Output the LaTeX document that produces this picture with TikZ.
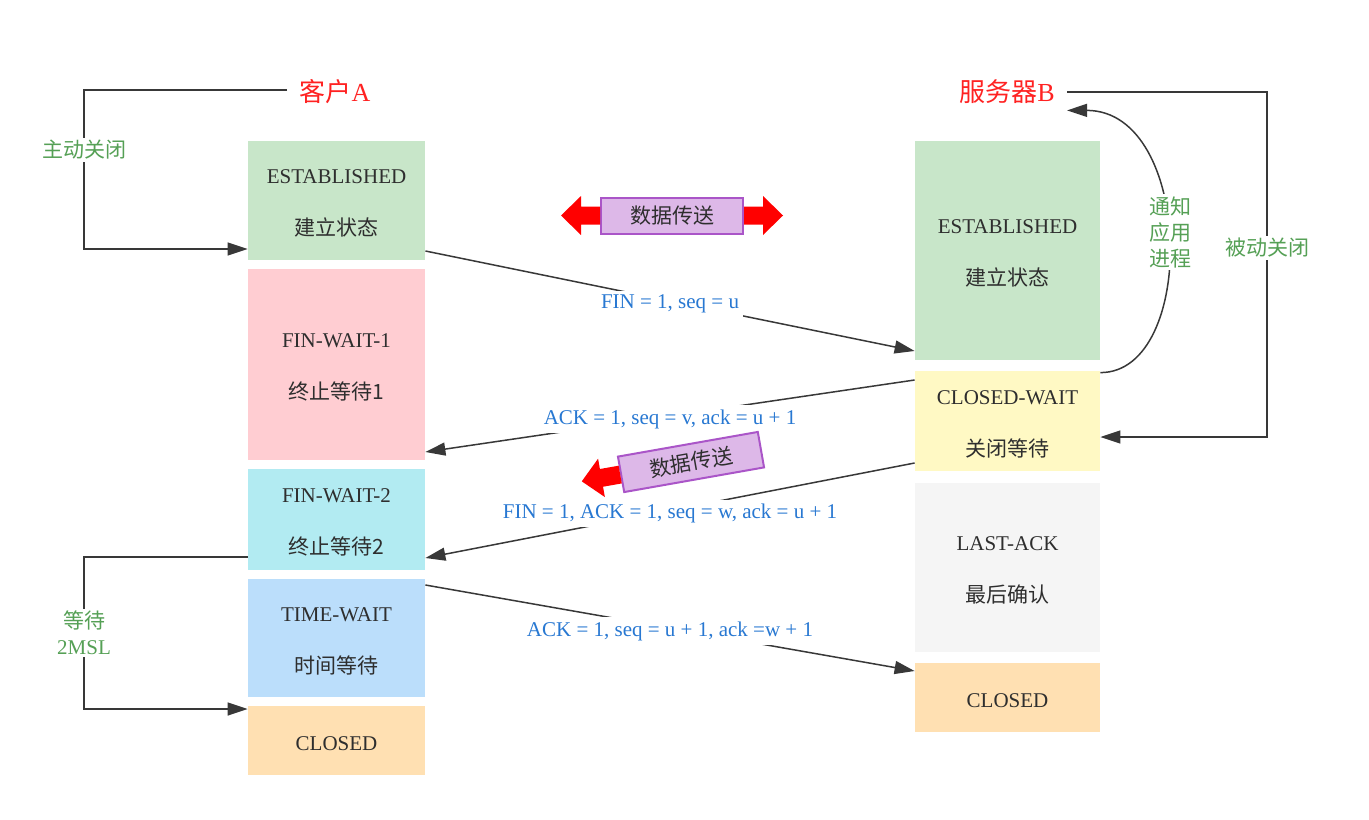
\documentclass[tikz,border=0pt]{standalone}
\usepackage{fontspec}
\setmainfont{Liberation Serif}
\newfontfamily\cjk{Noto Sans CJK SC}
\usetikzlibrary{arrows.meta}
\definecolor{estgreen}{HTML}{C8E6C9}
\definecolor{finpink}{HTML}{FFCDD2}
\definecolor{fincyan}{HTML}{B2EBF2}
\definecolor{timeblue}{HTML}{BBDEFB}
\definecolor{closedorange}{HTML}{FFE0B2}
\definecolor{waityellow}{HTML}{FFF9C4}
\definecolor{lastgrey}{HTML}{F5F5F5}
\definecolor{boxtext}{HTML}{2E2E2E}
\definecolor{titlered}{HTML}{FF2222}
\definecolor{notegreen}{HTML}{55A055}
\definecolor{msgblue}{HTML}{2878D2}
\definecolor{linegrey}{HTML}{383838}
\definecolor{datfill}{HTML}{DDB8E8}
\definecolor{datedge}{HTML}{AA55C8}
\begin{document}
\begin{tikzpicture}
% 1 unit = 1px of the 1369x819 sheet, y runs down
[x=0.5pt, y=-0.5pt,
 state/.style={inner sep=0pt, align=center, text=boxtext, font=\fontsize{10.5}{26}\selectfont},
 title/.style={text=titlered, inner sep=6pt, font=\fontsize{13}{15}\selectfont},
 note/.style={text=notegreen, fill=white, inner sep=1pt, align=center, font=\cjk\fontsize{10.5}{13}\selectfont},
 msg/.style={text=msgblue, fill=white, inner sep=2pt, yshift=-1.5pt, font=\fontsize{10.5}{12}\selectfont},
 link/.style={draw=linegrey, line width=0.75pt, -{Triangle[length=10pt,width=6.5pt]}},
 datbox/.style={fill=datfill, draw=datedge, line width=1pt, minimum width=71pt, minimum height=18pt, inner sep=0pt, text=boxtext, font=\cjk\fontsize{10.5}{12}\selectfont},
 datarrow/.style={fill=red}]
\useasboundingbox (0,0) rectangle (1369,819);
% left column x 248..425, right column x 915..1100
% the 10pt strut pulls the lines 1.5pt down
\foreach \nm/\xc/\bw/\yt/\yb/\fc/\en/\zh in {
 aest/336.5/177/141/260/estgreen/ESTABLISHED/建立状态,
 afw1/336.5/177/269/460/finpink/FIN-WAIT-1/终止等待1,
 afw2/336.5/177/469/570/fincyan/FIN-WAIT-2/终止等待2,
 atw/336.5/177/579/697/timeblue/TIME-WAIT/时间等待,
 best/1007.5/185/141/360/estgreen/ESTABLISHED/建立状态,
 bcw/1007.5/185/371/471/waityellow/CLOSED-WAIT/关闭等待,
 blast/1007.5/185/483/652/lastgrey/LAST-ACK/最后确认}{
	\node[state, fill=\fc, minimum width=\bw*0.5pt, minimum height={(\yb-\yt)*0.5pt}] (\nm) at (\xc,{(\yt+\yb)/2}) {\rule{0pt}{10pt}\en\\{\cjk\zh}};
	}
\node[state, fill=closedorange, minimum width=88.5pt, minimum height=34.5pt] (acl) at (336.5,740.5) {\rule{0pt}{10pt}CLOSED};
\node[state, fill=closedorange, minimum width=92.5pt, minimum height=34.5pt] (bcl) at (1007.5,697.5) {\rule{0pt}{10pt}CLOSED};
\node[title] (ca) at (335,92) {{\cjk 客户}A};
\node[title] (sb) at (1007,92) {{\cjk 服务器}B};
% loops at the sides
\coordinate (k1) at (84,150);
\coordinate (k2) at (1267,248);
\coordinate (k3) at (84,633);
\coordinate (k4) at (1170,232);
\draw[link] ([yshift=1pt]ca.west) -| (k1) |- ([yshift=-24.25pt]aest.west);
\draw[link] (sb.east) -| (k2) |- ([yshift=-8pt]bcw.east);
\draw[link] ([yshift=-18.75pt]afw2.west) -| (k3) |- ([yshift=15.75pt]acl.west);
\draw[link] ([yshift=-1pt]bcw.north east) .. controls +(97,0) and +(127,0) .. ([yshift=3pt]sb.south east);
\node[note] (n1) at (k1) {主动关闭};
\node[note] (n2) at (k2) {被动关闭};
\node[note] (n3) at (k3) {等待\\{\rmfamily 2MSL}};
\node[note] (n4) at (k4) {通知\\应用\\进程};
% segments between the two sides
\draw[link] ([yshift=-25.25pt]aest.east) -- node[msg] (m1) {FIN = 1, seq = u} ([yshift=-50.25pt]best.west);
\draw[link] ([yshift=20.5pt]bcw.west) -- node[msg] (m2) {ACK = 1, seq = v, ack = u + 1} ([yshift=-43.75pt]afw1.east);
\draw[link] ([yshift=-21pt]bcw.west) -- node[msg] (m3) {FIN = 1, ACK = 1, seq = w, ack = u + 1} ([yshift=-19.25pt]afw2.east);
\draw[link] ([yshift=26.5pt]atw.east) -- node[msg] (m4) {ACK = 1, seq = u + 1, ack =w + 1} ([yshift=13.25pt]bcl.west);
% data transfer marks
\node[datbox] (dt1) at (672,215.5) {数据传送};
\node[datbox, rotate=10] (dt2) at (691,462) {数据传送};
\fill[datarrow] (dt1.west) ++(0,-9) -- ++(-19,0) -- ++(0,-10.5) -- ++(-20,19.5) -- ++(20,19.5) -- ++(0,-10.5) -- ++(19,0) -- cycle;
\fill[datarrow] (dt1.east) ++(0,-9) -- ++(19,0) -- ++(0,-10.5) -- ++(20,19.5) -- ++(-20,19.5) -- ++(0,-10.5) -- ++(-19,0) -- cycle;
\fill[datarrow, rotate=10] (dt2.west) ++(0,-9) -- ++(-19,0) -- ++(0,-10.5) -- ++(-20,19.5) -- ++(20,19.5) -- ++(0,-10.5) -- ++(19,0) -- cycle;
\end{tikzpicture}
\end{document}
